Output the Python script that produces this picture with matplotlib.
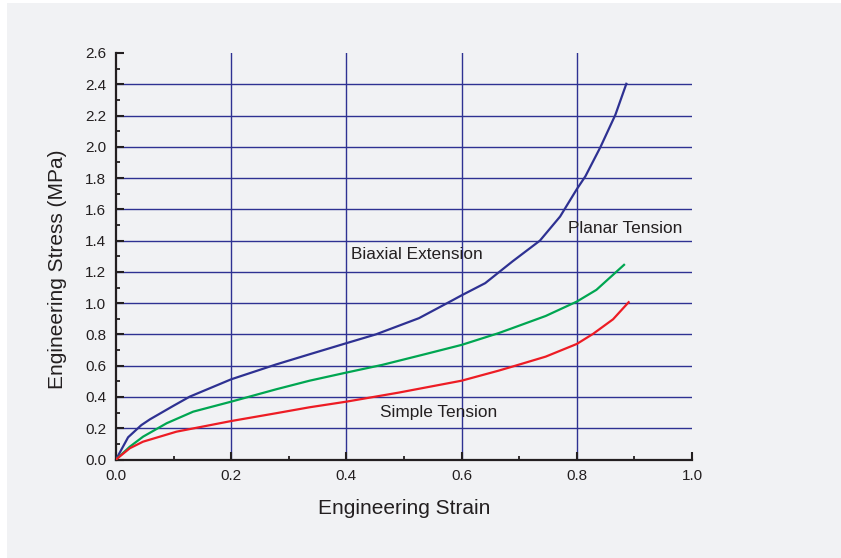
import matplotlib.pyplot as plt
from matplotlib.patches import Rectangle
from matplotlib.ticker import MultipleLocator

plt.rcParams['font.family'] = ['Liberation Sans', 'DejaVu Sans']

# Stress-strain data
biaxial_strain = [0.0, 0.021, 0.044, 0.059, 0.099, 0.128, 0.2, 0.278, 0.336, 0.4, 0.451,
                  0.526, 0.584, 0.6, 0.641, 0.688, 0.736, 0.771, 0.8, 0.815, 0.841, 0.867, 0.886]
biaxial_stress = [0.0, 0.142, 0.22, 0.257, 0.342, 0.402, 0.513, 0.608, 0.673, 0.744, 0.80,
                  0.904, 1.018, 1.050, 1.128, 1.266, 1.40, 1.554, 1.729, 1.812, 1.998, 2.205, 2.403]

planar_strain = [0.0, 0.024, 0.047, 0.088, 0.134, 0.2, 0.278, 0.336, 0.4, 0.462, 0.538,
                 0.6, 0.664, 0.688, 0.746, 0.8, 0.834, 0.882]
planar_stress = [0.0, 0.082, 0.146, 0.232, 0.306, 0.37, 0.449, 0.504, 0.556, 0.605, 0.675,
                 0.733, 0.808, 0.84, 0.918, 1.01, 1.085, 1.245]

simple_strain = [0.0, 0.024, 0.047, 0.105, 0.2, 0.278, 0.336, 0.4, 0.491, 0.6, 0.664,
                 0.688, 0.746, 0.8, 0.828, 0.863, 0.89]
simple_stress = [0.0, 0.072, 0.114, 0.178, 0.246, 0.296, 0.334, 0.37, 0.428, 0.504, 0.568,
                 0.594, 0.658, 0.739, 0.803, 0.897, 1.006]

grid_x = [0.2, 0.4, 0.6, 0.8]
grid_y = [0.2, 0.4, 0.6, 0.8, 1.0, 1.2, 1.4, 1.6, 1.8, 2.0, 2.2, 2.4]

navy = '#2e3192'
bg = '#f1f2f4'
txt = '#231f20'

fig = plt.figure(figsize=(8.41, 5.58), dpi=100, facecolor='white')
fig.patches.append(Rectangle((7 / 841, 0), 1, 1 - 3 / 558, transform=fig.transFigure,
                             facecolor=bg, edgecolor='none', zorder=-10))
ax = fig.add_axes([116 / 841, 1 - 459.5 / 558, 576 / 841, 406.5 / 558])
ax.set_facecolor(bg)

for gx in grid_x:
    ax.axvline(gx, color=navy, lw=1.0, zorder=1)
for gy in grid_y:
    ax.axhline(gy, color=navy, lw=1.0, zorder=1)

ax.plot(biaxial_strain, biaxial_stress, color=navy, lw=1.6, zorder=3)
ax.plot(planar_strain, planar_stress, color='#00a651', lw=1.6, zorder=3)
ax.plot(simple_strain, simple_stress, color='#ed1c24', lw=1.6, zorder=3)

ax.text(0.408, 1.309, 'Biaxial Extension', fontsize=12.4, color=txt, va='center')
ax.text(0.785, 1.475, 'Planar Tension', fontsize=12.4, color=txt, va='center')
ax.text(0.459, 0.298, 'Simple Tension', fontsize=12.4, color=txt, va='center')

ax.set_xlim(0, 1.0)
ax.set_ylim(0, 2.6)
ax.xaxis.set_major_locator(MultipleLocator(0.2))
ax.xaxis.set_minor_locator(MultipleLocator(0.1))
ax.yaxis.set_major_locator(MultipleLocator(0.2))
ax.yaxis.set_minor_locator(MultipleLocator(0.1))
ax.xaxis.set_major_formatter(lambda v, p: f'{v:.1f}')
ax.yaxis.set_major_formatter(lambda v, p: f'{v:.1f}')
ax.tick_params(which='major', direction='in', length=6, width=1.5, labelsize=11,
               labelcolor=txt, color='#231f20', pad=7)
ax.tick_params(which='minor', direction='in', length=3, width=1.3, color='#231f20')

for side in ['top', 'right']:
    ax.spines[side].set_visible(False)
for side in ['left', 'bottom']:
    ax.spines[side].set_linewidth(1.6)
    ax.spines[side].set_color('#231f20')

ax.set_xlabel('Engineering Strain', fontsize=15, color=txt, labelpad=11)
ax.set_ylabel('Engineering Stress (MPa)', fontsize=15, color=txt)
ax.yaxis.set_label_coords(-0.085, 0.469)

fig.savefig('out.png', dpi=100, facecolor=fig.get_facecolor())
